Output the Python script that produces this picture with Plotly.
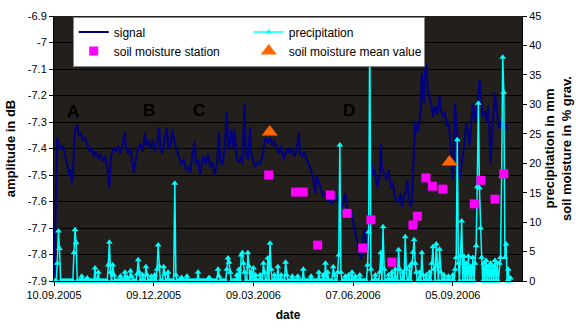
import plotly.graph_objects as go
from datetime import datetime, timedelta

START = datetime(2005, 9, 10)

# ---- signal (day offset from 10.09.2005, amplitude in dB) ----
signal_day = [0, 3, 4, 6, 8, 10, 12, 14, 15, 16, 17, 18, 19, 21, 22, 24, 26, 28, 30, 32, 34, 36, 38, 40, 42, 44, 46, 48, 49, 50,
              51, 52, 54, 56, 58, 60, 62, 64, 65, 67, 69, 71, 72, 74, 76, 78, 80, 82, 83, 85, 87, 89, 91, 93, 95, 96, 98, 100,
              102, 103, 105, 107, 109, 111, 113, 115, 117, 119, 121, 123, 125, 127, 128, 130, 132, 133, 135, 137, 139, 141,
              143, 145, 147, 149, 150, 152, 154, 156, 157, 158, 160, 162, 163, 165, 167, 169, 170, 172, 173, 175, 177, 178,
              180, 182, 184, 186, 188, 190, 191, 193, 195, 197, 199, 201, 203, 205, 207, 209, 211, 213, 215, 217, 219, 221,
              222, 224, 226, 228, 230, 232, 234, 236, 237, 239, 241, 243, 245, 247, 249, 251, 253, 255, 257, 259, 261, 263,
              264, 266, 268, 270, 272, 274, 276, 277, 279, 280, 282, 283, 284, 285, 286, 288, 289, 291, 292, 294, 295, 296,
              298, 300, 302, 304, 306, 307, 309, 311, 313, 314, 316, 318, 319, 320, 322, 323, 324, 325, 326, 328, 329, 331,
              332, 333, 334, 335, 336.6, 337, 338, 340, 341, 342, 344, 346, 348, 349, 351, 353, 354, 356, 358, 359, 360, 361,
              362, 363, 365, 366, 368, 370, 372, 374, 375, 377, 378, 380, 381, 383, 384, 386, 387, 389, 391, 392, 393, 394,
              396, 398, 400, 402, 404, 406, 408, 409]
signal_db = [-7.88, -7.36, -7.38, -7.40, -7.39, -7.42, -7.46, -7.50, -7.48, -7.53, -7.51, -7.40, -7.33, -7.31, -7.35, -7.34,
             -7.37, -7.36, -7.38, -7.41, -7.40, -7.43, -7.41, -7.44, -7.42, -7.45, -7.43, -7.47, -7.52, -7.55,
             -7.45, -7.42, -7.40, -7.41, -7.39, -7.42, -7.38, -7.34, -7.40, -7.42, -7.40, -7.46, -7.49, -7.44, -7.40, -7.38,
             -7.41, -7.34, -7.39, -7.37, -7.40, -7.37, -7.41, -7.38, -7.32, -7.40, -7.42, -7.36,
             -7.32, -7.40, -7.39, -7.33, -7.38, -7.41, -7.44, -7.46, -7.44, -7.48, -7.47, -7.49, -7.42, -7.375, -7.46, -7.44,
             -7.50, -7.46, -7.43, -7.46, -7.42, -7.47,
             -7.45, -7.50, -7.46, -7.34, -7.45, -7.46, -7.40, -7.26, -7.38, -7.405, -7.33, -7.40, -7.33, -7.44, -7.45, -7.43,
             -7.46, -7.23, -7.42, -7.44, -7.32, -7.42,
             -7.45, -7.47, -7.45, -7.46, -7.43, -7.39, -7.36, -7.38, -7.36, -7.39, -7.37, -7.40, -7.42, -7.39, -7.44, -7.42,
             -7.40, -7.42, -7.40, -7.43, -7.41, -7.34,
             -7.42, -7.43, -7.41, -7.44, -7.46, -7.48, -7.52, -7.57, -7.50, -7.53, -7.55, -7.58, -7.57, -7.60, -7.59, -7.61,
             -7.58, -7.58, -7.60, -7.63, -7.60, -7.57,
             -7.62, -7.64, -7.63, -7.68, -7.72, -7.76, -7.80, -7.82, -7.75, -7.70, -7.76, -7.79, -7.80, -7.55, -7.44, -7.50,
             -7.48, -7.52, -7.545, -7.50, -7.38, -7.48,
             -7.49, -7.52, -7.48, -7.55, -7.53, -7.57, -7.60, -7.595, -7.57, -7.62, -7.58, -7.56, -7.52, -7.58, -7.62, -7.60,
             -7.50, -7.38, -7.30, -7.34, -7.32, -7.25,
             -7.115, -7.20, -7.23, -7.09, -7.085, -7.15, -7.19, -7.22, -7.26, -7.28, -7.24, -7.27, -7.20, -7.25, -7.28, -7.26,
             -7.315, -7.30, -7.38, -7.455, -7.515, -7.40,
             -7.23, -7.30, -7.38, -7.515, -7.45, -7.40, -7.305, -7.34, -7.39, -7.30, -7.23, -7.30, -7.265, -7.20, -7.14, -7.25,
             -7.28, -7.26, -7.30, -7.24, -7.35, -7.455,
             -7.30, -7.19, -7.28, -7.325, -7.29, -7.33, -7.31, -7.33]

# ---- precipitation (mm); days not listed had no rain ----
precip_last_day = 412
precip_event_day = [3, 4, 5, 18, 19, 20, 25, 30, 37, 40, 49, 50, 51, 53, 54, 60, 64, 66, 69, 70, 75, 76, 77, 80, 83, 84, 88, 91,
                    93, 94, 95, 99, 100, 103, 109, 110, 115, 120, 130, 140, 148, 149, 156, 157, 158, 159, 165, 167, 169, 170,
                    171, 172, 175, 176, 178, 180, 182, 186, 189, 190, 193, 195, 196, 199, 202, 205, 209, 210, 215, 220, 225,
                    232, 239, 243, 245, 247, 252, 253, 256, 257, 258, 259, 263, 266, 269, 272, 276, 283, 284, 285, 286, 290,
                    294, 295, 297, 298, 302, 305, 308, 311, 312, 315, 317, 318, 321, 323, 324, 325, 326, 327, 330, 332, 333,
                    336, 339, 341, 342, 343, 345, 346, 348, 349, 352, 356, 360, 362, 363, 364, 365, 367, 368, 370, 372,
                    374, 376, 378, 380, 381, 382, 383, 384, 385, 386, 388, 390, 392, 394, 396, 398, 400, 402, 403, 404, 405,
                    406, 407, 408, 410, 412]
precip_event_mm = [3.0, 8.5, 5.5, 4.8, 8.7, 6.5, 0.8, 0.5, 2.2, 1.5, 2.7, 6.6, 1.5, 2.7, 1.0, 0.8, 1.5, 0.7, 1.7, 0.8, 1.2, 3.6,
                   1.5, 1.0, 2.4, 1.0, 0.8, 1.0,
                   2.0, 6.1, 2.5, 2.4, 1.2, 1.5, 16.6, 1.0, 0.6, 0.8, 1.5, 0.6, 2.0, 0.8, 2.0, 3.9, 3.2, 1.5, 1.0, 2.0, 4.4, 4.8,
                   3.0, 1.5, 4.8, 2.5, 1.5, 2.2, 1.0, 1.0, 3.0, 1.5, 3.9, 6.4, 2.0, 1.0, 2.4, 1.0, 3.2, 1.0, 0.8, 0.8, 2.0,
                   0.8, 1.5, 1.0, 3.0, 1.5, 2.4, 1.0, 1.5, 4.4, 23.1, 1.5, 0.8, 1.0, 1.5, 0.8, 1.0, 2.7, 8.3, 44.0, 2.0, 1.0,
                   1.5, 4.8, 9.2, 2.0, 1.0, 1.5, 2.0, 5.3, 2.0, 1.5, 7.5, 2.0, 2.5, 3.0, 4.9, 7.0, 3.0, 1.5, 1.5, 4.8, 1.0,
                   1.0, 1.5, 3.0, 5.8, 2.0, 6.3, 2.5, 5.4, 1.5, 1.0, 0.8, 1.0, 2.0, 4.0, 24.0, 3.0, 4.2, 10.2, 4.2, 3.0,
                   4.2, 2.5, 4.0, 3.0, 6.0, 16.0, 30.2, 15.8, 9.0, 4.0, 3.0, 3.5, 2.5, 3.0, 2.5, 3.5, 3.0, 3.0, 4.0, 17.8, 38.0,
                   32.0, 4.0, 6.3, 2.0, 0.5]

# ---- soil moisture (% grav.) ----
station_day = [193.8, 218, 225, 238, 249.4, 264.5, 278.6, 286, 305, 324, 328, 335.7, 341.5, 351, 379.3, 385.4, 398, 406]
station_pct = [18.0, 15.1, 15.1, 6.1, 14.6, 11.5, 5.6, 10.4, 3.2, 9.5, 11.0, 17.5, 16.1, 15.6, 13.1, 17.1, 13.9, 18.2]
mean_day = [194.7, 357]
mean_pct = [25.3, 20.2]

left_ticks = [-6.9, -7.0, -7.1, -7.2, -7.3, -7.4, -7.5, -7.6, -7.7, -7.8, -7.9]
left_tick_text = ["-6.9", "-7", "-7.1", "-7.2", "-7.3", "-7.4", "-7.5", "-7.6", "-7.7", "-7.8", "-7.9"]
x_tick_dates = ["2005-09-10", "2005-12-09", "2006-03-09", "2006-06-07", "2006-09-05"]
x_tick_text = ["10.09.2005", "09.12.2005", "09.03.2006", "07.06.2006", "05.09.2006"]
region_labels = ["A", "B", "C", "D"]


def to_dt(d):
    return START + timedelta(days=d)


precip_map = dict(zip(precip_event_day, precip_event_mm))
precip_days = list(range(0, precip_last_day + 1))
precip_vals = [precip_map.get(d, 0.0) for d in precip_days]

FONT = "Liberation Sans, Arial, sans-serif"

fig = go.Figure()
fig.add_trace(go.Scatter(x=[to_dt(d) for d in signal_day], y=signal_db, mode="lines", name="signal",
                         line=dict(color="#000080", width=2)))
fig.add_trace(go.Scatter(x=[to_dt(d) for d in precip_days], y=precip_vals, mode="lines+markers", name="precipitation",
                         yaxis="y2", line=dict(color="#00ffff", width=1.5),
                         marker=dict(symbol="triangle-up", size=6, color="#00ffff"), cliponaxis=False))
fig.add_trace(go.Scatter(x=[to_dt(d) for d in station_day], y=station_pct, mode="markers", name="soil moisture station",
                         yaxis="y2", marker=dict(symbol="square", size=9, color="#ff00ff")))
fig.add_trace(go.Scatter(x=[to_dt(d) for d in mean_day], y=mean_pct, mode="markers", name="soil moisture mean value",
                         yaxis="y2", marker=dict(symbol="triangle-up", size=14, color="#ff6600")))

label_pos = [(0.0235, 0.638), (0.186, 0.642), (0.293, 0.642), (0.630, 0.645)]
annotations = []
for t, (ax, ay) in zip(region_labels, label_pos):
    annotations.append(dict(text="<b>%s</b>" % t, x=ax, y=ay, xref="paper", yref="paper", showarrow=False,
                            font=dict(size=17, color="#000000", family=FONT)))

fig.update_layout(
    width=576, height=329,
    margin=dict(l=54, r=54, t=16, b=48, autoexpand=False),
    paper_bgcolor="white", plot_bgcolor="#231f1c",
    font=dict(family=FONT, size=11, color="black"),
    showlegend=True,
    legend=dict(x=0.04, y=0.998, xanchor="left", yanchor="top", orientation="h",
                bgcolor="white", bordercolor="#888888", borderwidth=1,
                entrywidth=130, font=dict(size=12, family=FONT, color="black"),
                itemwidth=30),
    annotations=annotations,
    xaxis=dict(range=[to_dt(0), to_dt(422.4)], tickvals=x_tick_dates, ticktext=x_tick_text, automargin=False,
               showgrid=False, zeroline=False, showline=True, linecolor="black", linewidth=1,
               ticks="outside", ticklen=4, tickcolor="black",
               title=dict(text="<b>date</b>", font=dict(size=12, family=FONT), standoff=10)),
    yaxis=dict(range=[-7.9, -6.9], tickvals=left_ticks, ticktext=left_tick_text, automargin=False,
               showgrid=True, gridcolor="black", gridwidth=1, zeroline=False,
               showline=True, linecolor="black", linewidth=1, ticks="outside", ticklen=4, tickcolor="black",
               title=dict(text="<b>amplitude in dB</b>", font=dict(size=13, family=FONT), standoff=9)),
    yaxis2=dict(range=[0, 45], dtick=5, overlaying="y", side="right", showgrid=False, zeroline=False, automargin=False,
                showline=True, linecolor="black", linewidth=1, ticks="outside", ticklen=4, tickcolor="black",
                title=dict(text="<b>precipitation in mm<br>soil moisture in % grav.</b>",
                           font=dict(size=13, family=FONT), standoff=4)),
)

fig.write_html("out.html", config={"displayModeBar": False},
               post_script="document.body.style.margin='0';document.body.style.padding='0';")
